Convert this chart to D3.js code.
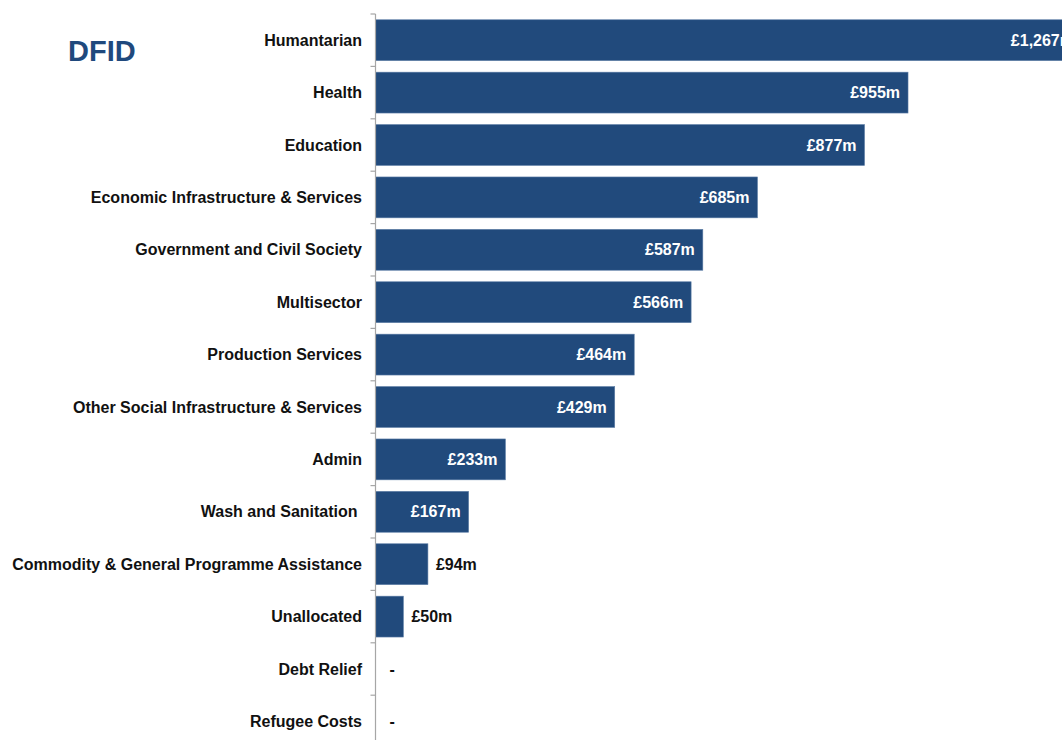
<!DOCTYPE html>
<html>
<head>
<meta charset="utf-8">
<script src="https://cdnjs.cloudflare.com/ajax/libs/d3/7.8.5/d3.min.js"></script>
<style>
  body { margin: 0; background: #fff; }
  svg { display: block; font-family: "Liberation Sans", Arial, sans-serif; }
</style>
</head>
<body>
<div id="chart"></div>
<script>
const categories = [
    'Humantarian', 'Health', 'Education', 'Economic Infrastructure & Services',
    'Government and Civil Society', 'Multisector', 'Production Services',
    'Other Social Infrastructure & Services', 'Admin', 'Wash and Sanitation ',
    'Commodity & General Programme Assistance', 'Unallocated', 'Debt Relief', 'Refugee Costs'
];
const values = [1267, 955, 877, 685, 587, 566, 464, 429, 233, 167, 94, 50, 0, 0];
const title = 'DFID';

const width = 1062, height = 740;
const barColor = '#214a7c';

const svg = d3.select('#chart').append('svg')
    .attr('width', width)
    .attr('height', height);

const x = d3.scaleLinear()
    .domain([0, 1267])
    .range([375.5, 1082]);

const y = d3.scaleBand()
    .domain(categories)
    .range([14, 14 + 52.4 * categories.length])
    .paddingInner(0.22)
    .paddingOuter(0.11);

const data = categories.map((c, i) => ({ name: c, value: values[i] }));

// bars
svg.append('g').selectAll('rect')
    .data(data.filter(d => d.value > 0))
    .enter().append('rect')
    .attr('x', x(0))
    .attr('y', d => y(d.name))
    .attr('width', d => x(d.value) - x(0))
    .attr('height', y.bandwidth())
    .style('fill', barColor)
    .style('stroke', '#5d7ea6')
    .style('stroke-width', 0.6);

// axis line with ticks between categories
const step = y.step();
const axis = svg.append('g').attr('class', 'axis');
axis.append('line')
    .attr('x1', x(0)).attr('x2', x(0))
    .attr('y1', 14).attr('y2', height)
    .style('stroke', '#a6a6a6')
    .style('stroke-width', 1.2);
axis.selectAll('.tick')
    .data(d3.range(categories.length + 1))
    .enter().append('line')
    .attr('class', 'tick')
    .attr('x1', x(0) - 5).attr('x2', x(0))
    .attr('y1', i => 14 + i * step).attr('y2', i => 14 + i * step)
    .style('stroke', '#a6a6a6')
    .style('stroke-width', 1.2);

// category labels
svg.append('g').selectAll('text')
    .data(data)
    .enter().append('text')
    .attr('x', 362)
    .attr('y', d => y(d.name) + y.bandwidth() / 2)
    .attr('dy', '0.35em')
    .attr('text-anchor', 'end')
    .style('white-space', 'pre')
    .style('font-size', '16px')
    .style('font-weight', 'bold')
    .style('fill', '#111')
    .text(d => d.name);

// value labels
const fmt = v => v === 0 ? '-' : '£' + d3.format(',')(v) + 'm';
svg.append('g').selectAll('text')
    .data(data)
    .enter().append('text')
    .attr('x', d => d.value === 0 ? x(0) + 14 : d.value < 120 ? x(d.value) + 8 : x(d.value) - 8)
    .attr('y', d => y(d.name) + y.bandwidth() / 2)
    .attr('dy', '0.35em')
    .attr('text-anchor', d => d.value < 120 ? 'start' : 'end')
    .style('font-size', '16px')
    .style('font-weight', 'bold')
    .style('fill', d => d.value < 120 ? '#111' : '#fff')
    .text(d => fmt(d.value));

// title
svg.append('text')
    .attr('x', 68)
    .attr('y', 61)
    .style('font-size', '29px')
    .style('font-weight', 'bold')
    .style('fill', '#1f497d')
    .text(title);
</script>
</body>
</html>
